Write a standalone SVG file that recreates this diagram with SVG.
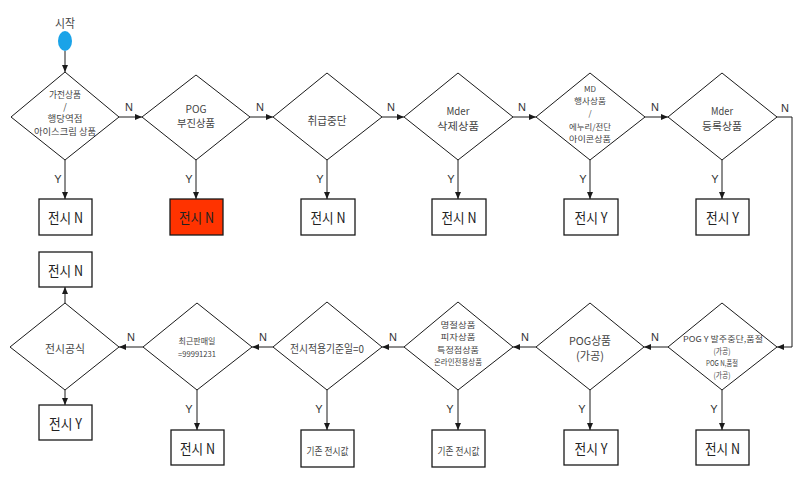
<svg xmlns="http://www.w3.org/2000/svg" width="800" height="500" viewBox="0 0 800 500">
<defs>
<marker id="a" markerUnits="userSpaceOnUse" markerWidth="7" markerHeight="6" refX="7" refY="3" orient="auto"><path d="M0,0 L7,3 L0,6 Z" fill="#1a1a1a"/></marker>
</defs>
<style>
.d{fill:#fff;stroke:#1a1a1a;stroke-width:1}
.b{fill:#fff;stroke:#1a1a1a;stroke-width:1.3}
.r{fill:#FF3300}
.t{font-family:"Noto Sans CJK KR","Noto Sans",sans-serif;text-anchor:middle;dominant-baseline:central;fill:#444}
.s8{font-size:8px}
.s9{font-size:9px}
.s10{font-size:10px}
.s11{font-size:11px}
.s12{font-size:12px}
.bx{font-size:14px;fill:#222}
.l{font-family:"Liberation Sans",sans-serif;font-size:11px;fill:#333;text-anchor:middle;dominant-baseline:central}
.c{fill:none;stroke:#1a1a1a;stroke-width:1;marker-end:url(#a)}
</style>
<rect width="800" height="500" fill="#fff"/>

<g id="connectors">
<path class="c" d="M65,51 L65,72"/>
<path class="c" d="M119,117 L142,117"/>
<path class="c" d="M250,117 L273,117"/>
<path class="c" d="M382,117 L404,117"/>
<path class="c" d="M513,117 L536,117"/>
<path class="c" d="M645,117 L668,117"/>
<path class="c" d="M776,117 L792,117 L792,347 L777,347"/>
<path class="c" d="M65,160 L65,199"/>
<path class="c" d="M196,160 L196,199"/>
<path class="c" d="M327,160 L327,199"/>
<path class="c" d="M458,160 L458,199"/>
<path class="c" d="M590,160 L590,199"/>
<path class="c" d="M722,160 L722,199"/>
<path class="c" d="M668,347 L644,347"/>
<path class="c" d="M536,347 L513,347"/>
<path class="c" d="M404,347 L382,347"/>
<path class="c" d="M273,347 L252,347"/>
<path class="c" d="M143,347 L119,347"/>
<path class="c" d="M65,303 L65,287"/>
<path class="c" d="M65,390 L65,405"/>
<path class="c" d="M197,390 L197,430"/>
<path class="c" d="M327,390 L327,430"/>
<path class="c" d="M458,390 L458,430"/>
<path class="c" d="M590,390 L590,430"/>
<path class="c" d="M722,390 L722,430"/>
<text class="l" x="129" y="107">N</text>
<text class="l" x="260" y="107">N</text>
<text class="l" x="391" y="107">N</text>
<text class="l" x="522" y="107">N</text>
<text class="l" x="655" y="107">N</text>
<text class="l" x="785" y="108">N</text>
<text class="l" x="58" y="179">Y</text>
<text class="l" x="189" y="179">Y</text>
<text class="l" x="320" y="179">Y</text>
<text class="l" x="451" y="179">Y</text>
<text class="l" x="583" y="179">Y</text>
<text class="l" x="715" y="179">Y</text>
<text class="l" x="655" y="337">N</text>
<text class="l" x="525" y="337">N</text>
<text class="l" x="393" y="337">N</text>
<text class="l" x="263" y="337">N</text>
<text class="l" x="131" y="337">N</text>
<text class="l" x="189" y="409">Y</text>
<text class="l" x="319" y="409">Y</text>
<text class="l" x="450" y="409">Y</text>
<text class="l" x="582" y="409">Y</text>
<text class="l" x="714" y="409">Y</text>
</g>

<g id="start">
<text class="t s12" x="65" y="22" fill="#333" textLength="20" lengthAdjust="spacingAndGlyphs">시작</text>
<ellipse cx="65" cy="41" rx="7" ry="10" fill="#1AA3E8"/>
</g>

<g id="d1">
<path class="d" d="M65,72 L119,117 L65,160 L11,117 Z"/>
<text class="t s9" x="65" y="94" textLength="32" lengthAdjust="spacingAndGlyphs">가전상품</text>
<text class="t s9" x="65" y="106">/</text>
<text class="t s9" x="65" y="118" textLength="35" lengthAdjust="spacingAndGlyphs">행당역점</text>
<text class="t s9" x="65" y="131" textLength="62" lengthAdjust="spacingAndGlyphs">아이스크림 상품</text>
</g>
<g id="d2">
<path class="d" d="M196,75 L250,117 L196,160 L142,117 Z"/>
<text class="t s10" x="196" y="108" textLength="21" lengthAdjust="spacingAndGlyphs">POG</text>
<text class="t s10" x="196" y="122" textLength="38" lengthAdjust="spacingAndGlyphs">부진상품</text>
</g>
<g id="d3">
<path class="d" d="M327,73 L382,117 L327,160 L273,117 Z"/>
<text class="t s11" x="327" y="120" textLength="39" lengthAdjust="spacingAndGlyphs">취급중단</text>
</g>
<g id="d4">
<path class="d" d="M458,73 L513,117 L458,160 L404,117 Z"/>
<text class="t s10" x="458" y="110" textLength="23" lengthAdjust="spacingAndGlyphs">Mder</text>
<text class="t s10" x="458" y="125" textLength="42" lengthAdjust="spacingAndGlyphs">삭제상품</text>
</g>
<g id="d5">
<path class="d" d="M590,73 L645,117 L590,160 L536,117 Z"/>
<text class="t s8" x="590" y="88" textLength="12" lengthAdjust="spacingAndGlyphs">MD</text>
<text class="t s8" x="590" y="100" textLength="32" lengthAdjust="spacingAndGlyphs">행사상품</text>
<text class="t s8" x="590" y="112">/</text>
<text class="t s8" x="590" y="126" textLength="42" lengthAdjust="spacingAndGlyphs">에누리/전단</text>
<text class="t s8" x="590" y="138" textLength="42" lengthAdjust="spacingAndGlyphs">아이콘상품</text>
</g>
<g id="d6">
<path class="d" d="M722,73 L777,117 L722,160 L668,117 Z"/>
<text class="t s10" x="722" y="110" textLength="22" lengthAdjust="spacingAndGlyphs">Mder</text>
<text class="t s10" x="722" y="125" textLength="40" lengthAdjust="spacingAndGlyphs">등록상품</text>
</g>

<g id="box1"><rect class="b" x="39" y="199" width="53" height="36"/><text class="t bx" x="65.5" y="217" textLength="35" lengthAdjust="spacingAndGlyphs">전시 N</text></g>
<g id="box2"><rect class="b r" x="170" y="199" width="53" height="36"/><text class="t bx" x="196.5" y="217" textLength="35" lengthAdjust="spacingAndGlyphs">전시 N</text></g>
<g id="box3"><rect class="b" x="301" y="199" width="54" height="36"/><text class="t bx" x="328" y="217" textLength="35" lengthAdjust="spacingAndGlyphs">전시 N</text></g>
<g id="box4"><rect class="b" x="432" y="199" width="54" height="36"/><text class="t bx" x="459" y="217" textLength="35" lengthAdjust="spacingAndGlyphs">전시 N</text></g>
<g id="box5"><rect class="b" x="564" y="199" width="54" height="36"/><text class="t bx" x="591" y="217" textLength="33" lengthAdjust="spacingAndGlyphs">전시 Y</text></g>
<g id="box6"><rect class="b" x="696" y="199" width="53" height="36"/><text class="t bx" x="722.5" y="217" textLength="33" lengthAdjust="spacingAndGlyphs">전시 Y</text></g>

<g id="b1">
<path class="d" d="M722,303 L777,347 L722,390 L668,347 Z"/>
<text class="t s8" x="723" y="338" textLength="80" lengthAdjust="spacingAndGlyphs">POG Y 발주중단,품절</text>
<text class="t s8" x="722" y="350" textLength="17" lengthAdjust="spacingAndGlyphs">(가공)</text>
<text class="t s8" x="722" y="362" textLength="32" lengthAdjust="spacingAndGlyphs">POG N,품절</text>
<text class="t s8" x="722" y="374" textLength="17" lengthAdjust="spacingAndGlyphs">(가공)</text>
</g>
<g id="b2">
<path class="d" d="M590,303 L644,347 L590,390 L536,347 Z"/>
<text class="t s11" x="590" y="340" textLength="42" lengthAdjust="spacingAndGlyphs">POG상품</text>
<text class="t s11" x="590" y="355" textLength="28" lengthAdjust="spacingAndGlyphs">(가공)</text>
</g>
<g id="b3">
<path class="d" d="M458,302 L513,347 L458,390 L404,347 Z"/>
<text class="t s8" x="458" y="324" textLength="35" lengthAdjust="spacingAndGlyphs">명절상품</text>
<text class="t s8" x="458" y="336" textLength="35" lengthAdjust="spacingAndGlyphs">피자상품</text>
<text class="t s8" x="458" y="349" textLength="42" lengthAdjust="spacingAndGlyphs">특정점상품</text>
<text class="t s8" x="458" y="361" textLength="48" lengthAdjust="spacingAndGlyphs">온라인전용상품</text>
</g>
<g id="b4">
<path class="d" d="M327,302 L382,347 L327,390 L273,347 Z"/>
<text class="t s11" x="327" y="348" textLength="74" lengthAdjust="spacingAndGlyphs">전시적용기준일=0</text>
</g>
<g id="b5">
<path class="d" d="M197,303 L252,347 L197,390 L143,347 Z"/>
<text class="t s8" x="197" y="340" textLength="37" lengthAdjust="spacingAndGlyphs">최근판매일</text>
<text class="t s8" x="197" y="353" textLength="38" lengthAdjust="spacingAndGlyphs">=99991231</text>
</g>
<g id="b6">
<path class="d" d="M65,303 L119,347 L65,390 L10,347 Z"/>
<text class="t s11" x="65" y="348" textLength="40" lengthAdjust="spacingAndGlyphs">전시공식</text>
</g>

<g id="box7"><rect class="b" x="39" y="252" width="53" height="35"/><text class="t bx" x="65.5" y="269.5" textLength="35" lengthAdjust="spacingAndGlyphs">전시 N</text></g>
<g id="box8"><rect class="b" x="39" y="405" width="53" height="35"/><text class="t bx" x="65.5" y="422.5" textLength="33" lengthAdjust="spacingAndGlyphs">전시 Y</text></g>
<g id="box9"><rect class="b" x="171" y="430" width="53" height="35"/><text class="t bx" x="197.5" y="447.5" textLength="35" lengthAdjust="spacingAndGlyphs">전시 N</text></g>
<g id="box10"><rect class="b" x="301" y="430" width="53" height="37"/><text class="t s10" x="327.5" y="450" textLength="42" lengthAdjust="spacingAndGlyphs">기존 전시값</text></g>
<g id="box11"><rect class="b" x="432" y="430" width="53" height="37"/><text class="t s10" x="458.5" y="450" textLength="42" lengthAdjust="spacingAndGlyphs">기존 전시값</text></g>
<g id="box12"><rect class="b" x="564" y="430" width="54" height="35"/><text class="t bx" x="591" y="447.5" textLength="33" lengthAdjust="spacingAndGlyphs">전시 Y</text></g>
<g id="box13"><rect class="b" x="696" y="430" width="53" height="35"/><text class="t bx" x="722.5" y="447.5" textLength="35" lengthAdjust="spacingAndGlyphs">전시 N</text></g>
</svg>
